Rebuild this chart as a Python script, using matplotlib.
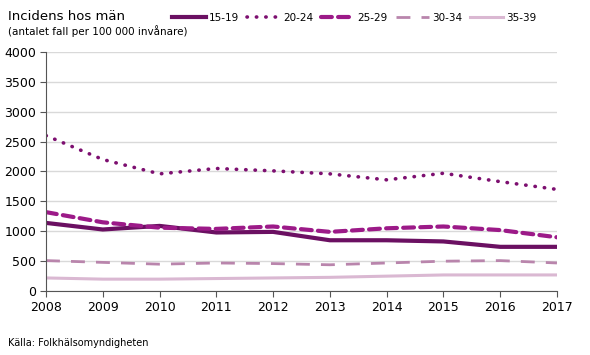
import numpy as np
from matplotlib import pyplot as plt

years = [2008, 2009, 2010, 2011, 2012, 2013, 2014, 2015, 2016, 2017]
age_15_19 = [1140, 1030, 1090, 980, 990, 850, 850, 830, 740, 740]
age_20_24 = [2600, 2200, 1960, 2050, 2010, 1960, 1860, 1970, 1830, 1700]
age_25_29 = [1320, 1150, 1060, 1040, 1080, 990, 1050, 1080, 1020, 900]
age_30_34 = [510, 480, 450, 470, 460, 440, 470, 500, 510, 470]
age_35_39 = [220, 200, 200, 210, 220, 230, 250, 270, 270, 270]
labels = ["15-19", "20-24", "25-29", "30-34", "35-39"]
yticks = [0, 500, 1000, 1500, 2000, 2500, 3000, 3500, 4000]

plt.rcParams['font.family'] = ['DejaVu Sans']

fig = plt.figure(figsize=(5.9, 3.55), dpi=100)
ax = fig.add_axes([0.078, 0.180, 0.866, 0.674])

series = [age_15_19, age_20_24, age_25_29, age_30_34, age_35_39]
styles = [
    dict(color="#6b1062", lw=3.0, ls="-"),
    dict(color="#7d0f70", lw=2.6, ls=(0, (0.1, 2.5)), dash_capstyle="round"),
    dict(color="#9c1a88", lw=3.0, ls=(0, (2.6, 1.5)), dash_capstyle="round"),
    dict(color="#b985ac", lw=2.0, ls=(0, (5, 4))),
    dict(color="#dab8d2", lw=2.2, ls="-"),
]
for vals, lab, st in zip(series, labels, styles):
    ax.plot(years, vals, label=lab, **st)

ax.set_xlim(2008, 2017)
ax.set_ylim(0, 4000)
ax.set_xticks(years)
ax.set_yticks(yticks)
ax.tick_params(labelsize=9, length=4, color="#555555", pad=3)
ax.grid(axis="y", color="#d9d9d9", lw=1)
ax.set_axisbelow(True)
for s in ["top", "right"]:
    ax.spines[s].set_visible(False)
for s in ["left", "bottom"]:
    ax.spines[s].set_color("#555555")

fig.text(0.014, 0.935, "Incidens hos män", fontsize=9.5, va="bottom")
fig.text(0.014, 0.895, "(antalet fall per 100 000 invånare)", fontsize=7.5, va="bottom")
fig.text(0.014, 0.02, "Källa: Folkhälsomyndigheten", fontsize=7, va="bottom")

fig.legend(loc="upper left", bbox_to_anchor=(0.285, 0.975), ncol=5, frameon=False,
           fontsize=7.5, handlelength=3.2, handletextpad=0.3, columnspacing=0.75,
           borderaxespad=0)

fig.savefig("out.png", dpi=100)
